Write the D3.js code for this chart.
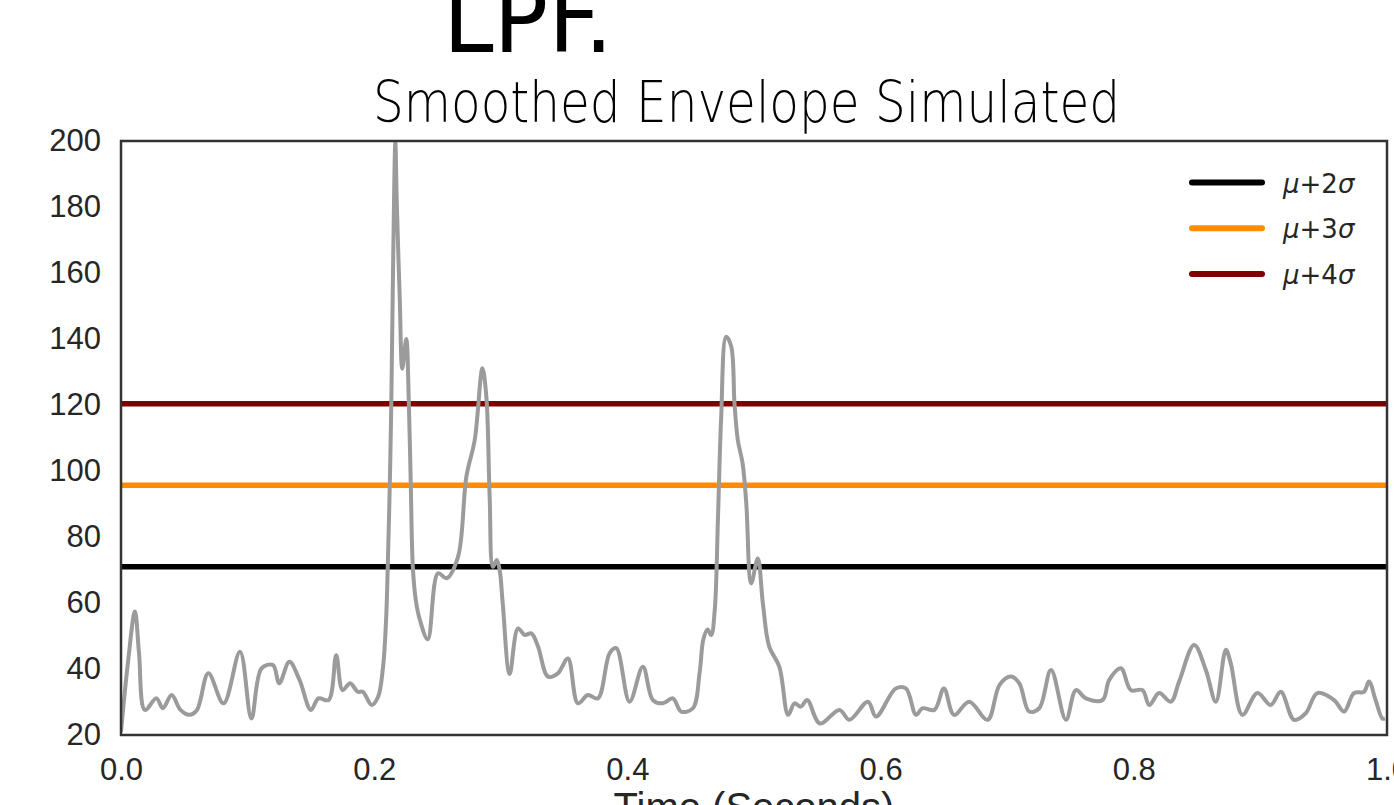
<!DOCTYPE html>
<html>
<head>
<meta charset="utf-8">
<script src="https://cdn.jsdelivr.net/npm/d3@7"></script>
<style>
  html, body { margin: 0; padding: 0; background: #fff; }
  svg { display: block; }
</style>
</head>
<body>
<svg id="chart" width="1394" height="805"></svg>
<script>
// ---- data ----
const timeSeconds = [
  0.000, 0.0055, 0.011, 0.0142, 0.0189, 0.028, 0.033, 0.040, 0.047, 0.054,
  0.060, 0.069, 0.081, 0.094, 0.103, 0.111, 0.120, 0.125, 0.133, 0.141,
  0.150, 0.156, 0.164, 0.170, 0.175, 0.181, 0.187, 0.191, 0.198, 0.2031,
  0.207, 0.2094, 0.2107, 0.2123, 0.2135, 0.2151, 0.2167, 0.2178, 0.2202, 0.2222,
  0.2253, 0.2273, 0.2289, 0.2305, 0.2328, 0.236, 0.2423, 0.2504, 0.2571, 0.2662,
  0.2728, 0.2794, 0.2855, 0.2886, 0.2912, 0.2938, 0.2968, 0.2991, 0.3015, 0.307,
  0.3136, 0.3189, 0.3241, 0.3294, 0.3373, 0.3451, 0.3530, 0.3609, 0.3688, 0.3767,
  0.3860, 0.3912, 0.4017, 0.4122, 0.4201, 0.4280, 0.4359, 0.4425, 0.4517, 0.4570,
  0.4600, 0.4633, 0.4662, 0.469, 0.4715, 0.474, 0.478, 0.482, 0.4846, 0.4872,
  0.491, 0.4939, 0.4978, 0.503, 0.507, 0.512, 0.520, 0.527, 0.532, 0.537,
  0.542, 0.552, 0.5675, 0.5754, 0.590, 0.5964, 0.612, 0.620, 0.628, 0.633,
  0.6425, 0.650, 0.658, 0.670, 0.6845, 0.694, 0.703, 0.7095, 0.7174, 0.7253,
  0.7346, 0.7464, 0.7543, 0.7622, 0.7753, 0.7806, 0.7898, 0.7977, 0.8069, 0.8122,
  0.820, 0.8293, 0.8358, 0.8477, 0.8569, 0.8648, 0.8727, 0.8766, 0.8858, 0.8976,
  0.9082, 0.9161, 0.9266, 0.9358, 0.945, 0.9582, 0.9661, 0.9739, 0.9818, 0.9858,
  0.991, 0.9963, 0.9984
];
const envelope = [
  21, 42, 57.4, 45, 27.6, 31.1, 28.1, 32.1, 27.6, 26.1,
  27.6, 38.7, 29.6, 45.2, 25.0, 40.2, 41.2, 35.7, 42.2, 36.7,
  27.6, 31.1, 30.6, 44.2, 33.6, 35.7, 33.1, 33.1, 29.1, 31.6,
  40.7, 55, 71, 95.8, 120.3, 167, 199.5, 182, 152, 131,
  140, 121.5, 95.8, 71, 61, 55, 49, 69, 67.5, 74,
  98.3, 109.4, 131.1, 122.5, 92.2, 71, 73, 70, 60, 38.5,
  52.3, 50.3, 50.8, 46.8, 37.7, 38.7, 43.2, 29.6, 32.1, 31.1,
  44.8, 46.3, 30.1, 40.7, 30.6, 29.6, 31.1, 27.1, 28.1, 38.7,
  49, 52, 50.3, 57.9, 85.2, 115.5, 140.7, 137.7, 120.5, 109.4,
  102.3, 90.2, 66.0, 73.5, 59.9, 46.8, 40.7, 26.1, 29.6, 28.6,
  30.6, 23.5, 27.6, 24.6, 30.1, 25.6, 34.1, 34.1, 26.1, 28.1,
  27.6, 34.1, 26.1, 30.1, 24.6, 35.2, 37.7, 35.7, 27.1, 28.1,
  39.7, 24.6, 33.6, 31.1, 30.6, 36.7, 40.2, 33.6, 33.6, 29.1,
  32.7, 30.1, 36.2, 47.3, 39.7, 30.1, 45.8, 41.7, 26.1, 32.7,
  29.1, 33.1, 24.6, 26.6, 32.7, 30.6, 27.1, 32.7, 33.1, 36.2,
  30.6, 25.0, 25.0
];
const thresholdLabels = ["2", "3", "4"];          // μ+kσ
const thresholdValues = [71.0, 95.7, 120.4];
const xTicks = [0.0, 0.2, 0.4, 0.6, 0.8, 1.0];
const yTicks = [20, 40, 60, 80, 100, 120, 140, 160, 180, 200];

// ---- styles ----
const thresholdColors = ["#000000", "#ff8c00", "#800000"];
const lineColor = "#9b9b9b";
const textColor = "#262626";

// ---- layout ----
const svg = d3.select("#chart");
const margin = { left: 121, right: 1387, top: 141, bottom: 735 };

const x = d3.scaleLinear().domain([0, 1]).range([margin.left, margin.right]);
const y = d3.scaleLinear().domain([20, 200]).range([margin.bottom, margin.top]);

svg.append("defs").append("clipPath").attr("id", "plotclip")
  .append("rect")
  .attr("x", margin.left).attr("y", margin.top)
  .attr("width", margin.right - margin.left)
  .attr("height", margin.bottom - margin.top);

// Titles
svg.append("text")
  .attr("x", 443).attr("y", 52)
  .attr("textLength", 170).attr("lengthAdjust", "spacingAndGlyphs")
  .style("font-family", "'DejaVu Sans Condensed', 'DejaVu Sans', sans-serif")
  .style("font-size", "96px")
  .style("fill", "#000")
  .text("LPF.");

svg.append("text")
  .attr("x", 373).attr("y", 122)
  .attr("textLength", 747).attr("lengthAdjust", "spacingAndGlyphs")
  .style("font-family", "'DejaVu Sans', sans-serif")
  .style("font-size", "57px")
  .style("font-weight", "200")
  .style("fill", "#000")
  .text("Smoothed Envelope Simulated");

// threshold lines
const plot = svg.append("g").attr("clip-path", "url(#plotclip)");
plot.selectAll("line.thr")
  .data(thresholdValues)
  .enter().append("line")
  .attr("class", "thr")
  .attr("x1", x(0)).attr("x2", x(1))
  .attr("y1", d => y(d)).attr("y2", d => y(d))
  .attr("stroke", (d, i) => thresholdColors[i])
  .attr("stroke-width", 5.5);

// signal
const pts = timeSeconds.map((t, i) => [t, envelope[i]]);
plot.append("path")
  .datum(pts)
  .attr("fill", "none")
  .attr("stroke", lineColor)
  .attr("stroke-width", 4)
  .attr("stroke-linejoin", "round")
  .attr("d", d3.line().x(d => x(d[0])).y(d => y(d[1])).curve(d3.curveCatmullRom.alpha(0.5)));

// frame
svg.append("rect")
  .attr("x", margin.left).attr("y", margin.top)
  .attr("width", margin.right - margin.left)
  .attr("height", margin.bottom - margin.top)
  .attr("fill", "none")
  .attr("stroke", "#333")
  .attr("stroke-width", 2.5);

// axes
const yAxis = svg.append("g")
  .attr("transform", `translate(${margin.left},0)`)
  .call(d3.axisLeft(y).tickValues(yTicks).tickSize(0).tickPadding(20));
const xAxis = svg.append("g")
  .attr("transform", `translate(0,${margin.bottom})`)
  .call(d3.axisBottom(x).tickValues(xTicks).tickSize(0).tickPadding(23).tickFormat(d3.format(".1f")));
[yAxis, xAxis].forEach(g => {
  g.select(".domain").remove();
  g.selectAll("text")
    .style("font-family", "'Liberation Sans', Arial, sans-serif")
    .style("font-size", "31px")
    .style("fill", textColor);
});

svg.append("text")
  .attr("x", (margin.left + margin.right) / 2)
  .attr("y", 821)
  .attr("text-anchor", "middle")
  .style("font-family", "'Liberation Sans', Arial, sans-serif")
  .style("font-size", "40px")
  .style("fill", textColor)
  .text("Time (Seconds)");

// legend
const legend = svg.append("g");
const legendRows = legend.selectAll("g.row")
  .data(thresholdLabels)
  .enter().append("g")
  .attr("class", "row")
  .attr("transform", (d, i) => `translate(1192,${182.5 + i * 45.8})`);
legendRows.append("line")
  .attr("x1", 0).attr("x2", 70).attr("y1", 0).attr("y2", 0)
  .attr("stroke", (d, i) => thresholdColors[i])
  .attr("stroke-width", 6)
  .attr("stroke-linecap", "round");
const lt = legendRows.append("text")
  .attr("x", 91).attr("y", 10)
  .style("font-family", "'DejaVu Sans', sans-serif")
  .style("font-size", "26px")
  .style("fill", textColor);
lt.append("tspan").style("font-style", "italic").text("μ");
lt.append("tspan").text(d => "+" + d);
lt.append("tspan").style("font-style", "italic").text("σ");
</script>
</body>
</html>
